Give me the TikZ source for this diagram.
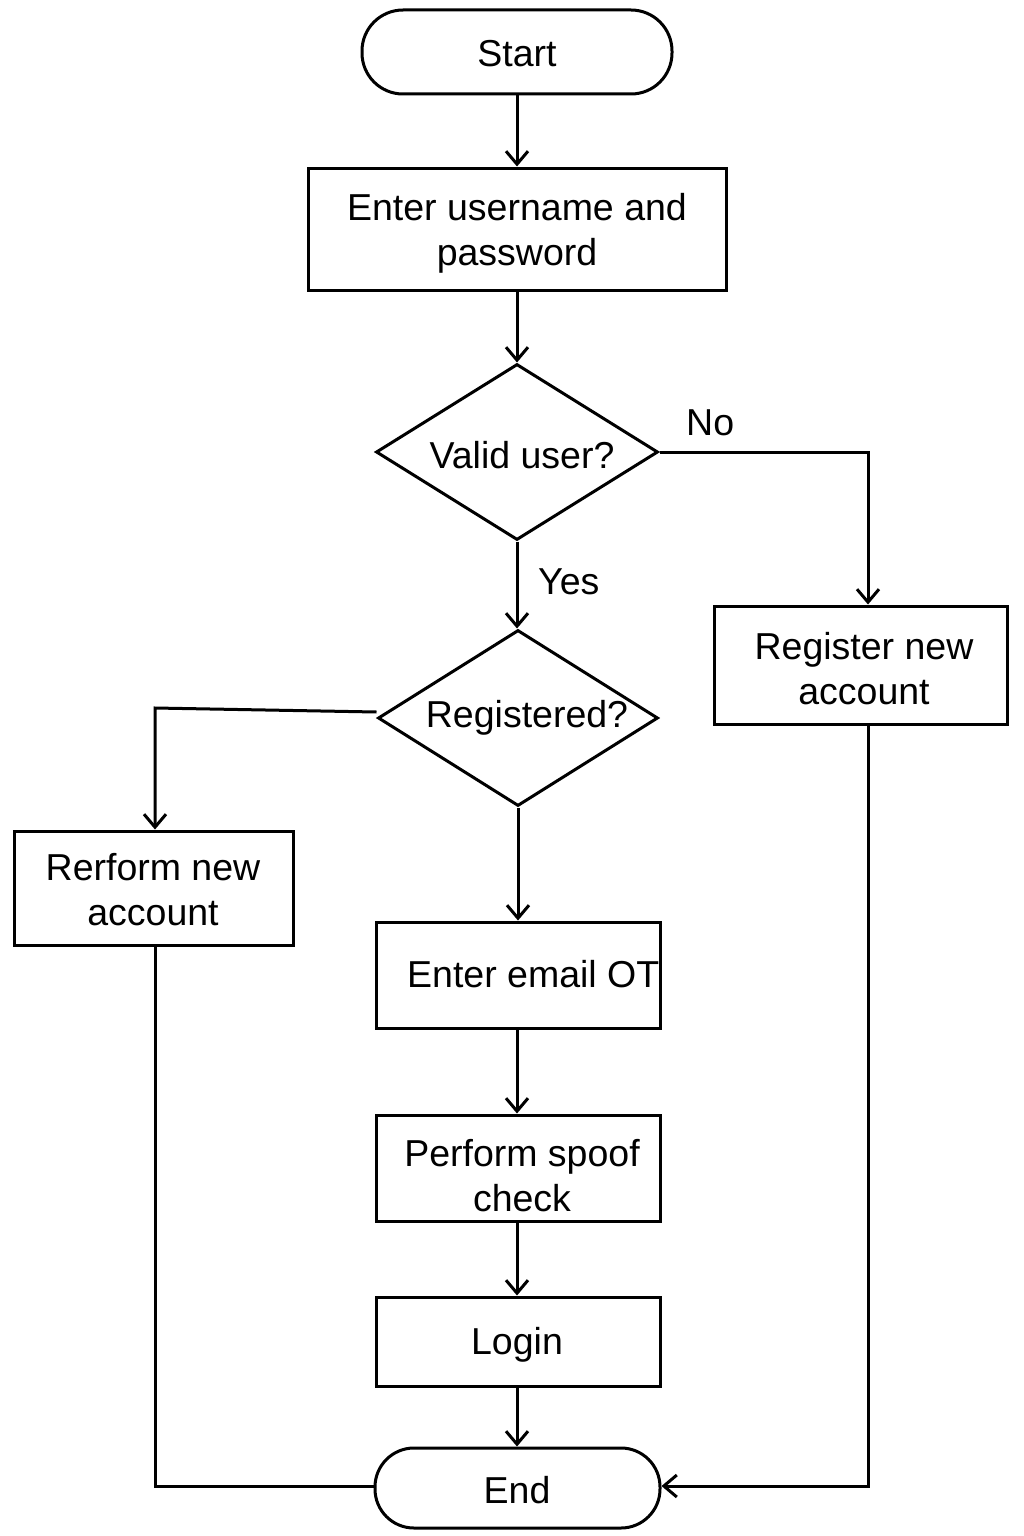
\documentclass[tikz,border=0pt]{standalone}
\usepackage{fontspec}
\setmainfont{Liberation Sans}
\usetikzlibrary{shapes.geometric,arrows.meta}
\begin{document}
\begin{tikzpicture}[x=1pt,y=-1pt,
  every node/.style={font=\fontsize{37.5}{45}\selectfont},
  line/.style={line width=3pt},
  arr/.style={line width=3pt,-{Straight Barb[length=13pt,width=22pt,line width=3pt]}},
  term/.style={draw,line width=3pt,rectangle,rounded corners=41pt,inner sep=0pt},
  proc/.style={draw,line width=3pt,rectangle,inner sep=0pt,align=center},
  dec/.style={draw,line width=3pt,diamond,inner sep=0pt}]
\useasboundingbox (0,0) rectangle (1024,1536);
\node[term,minimum width=310pt,minimum height=84pt] (start) at (517,52) {};
\node at (517,54) {Start};
\node[proc,minimum width=418pt,minimum height=122pt] (enter) at (517,229) {};
\node[align=center] at (517,233) {Enter username and\\password};
\node[dec,minimum width=282pt,minimum height=176pt] (valid) at (517,452) {};
\node at (522,455) {Valid user?};
\node[dec,minimum width=280pt,minimum height=176pt] (reg) at (518,718) {};
\node at (527,718) {Registered?};
\node[proc,minimum width=293pt,minimum height=118pt] (regnew) at (860.5,665) {};
\node at (864,669) [align=center] {Register new\\account};
\node[proc,minimum width=279pt,minimum height=114pt] (rerform) at (153.5,888) {};
\node at (153,890) [align=center] {Rerform new\\account};
\node[proc,minimum width=284pt,minimum height=106pt] (email) at (518,975) {};
\node[anchor=west,inner sep=0pt] at (407,974) {Enter email OT};
\node[proc,minimum width=284pt,minimum height=106pt] (spoof) at (518,1168) {};
\node at (522,1176) [align=center] {Perform spoof\\check};
\node[proc,minimum width=284pt,minimum height=89pt] (login) at (518,1341.5) {};
\node at (517,1345) {Login};
\node[term,minimum width=285pt,minimum height=80pt,rounded corners=39pt] (end) at (517.5,1488) {};
\node at (517,1490) {End};
\coordinate (c1) at (868,452);
\coordinate (c2) at (155,708);
\coordinate (c3) at (155,1486);
\coordinate (c4) at (868,1486);
\draw[arr] (start.south -| 517,0) -- (enter.north -| 517,0);
\draw[arr] (enter.south -| 517,0) -- (valid.north);
\draw[arr] (valid.east) -- (c1) -- (c1 |- regnew.north);
\node[anchor=south west,inner sep=0pt] at (686,436) {No};
\draw[arr] (valid.south) -- (reg.north -| valid.south);
\node[anchor=west,inner sep=0pt] at (538,582) {Yes};
\draw[arr] ([yshift=6pt]reg.west) -- (c2) -- (c2 |- rerform.north);
\draw[arr] (reg.south) -- (reg.south |- email.north);
\draw[arr] (email.south -| 517,0) -- (spoof.north -| 517,0);
\draw[arr] (spoof.south -| 517,0) -- (login.north -| 517,0);
\draw[arr] (login.south -| 517,0) -- (end.north -| 517,0);
\draw[line] (rerform.south -| c2) -- (c3) -- (c3 -| end.west);
\draw[arr] (regnew.south -| c4) -- (c4) -- (c4 -| end.east);
\end{tikzpicture}
\end{document}
